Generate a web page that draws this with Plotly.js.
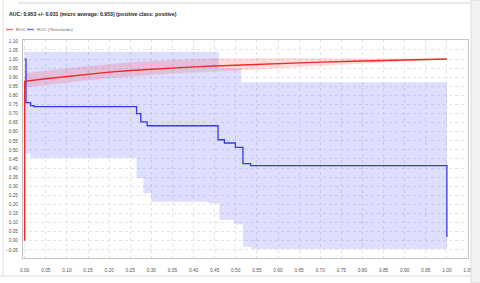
<!DOCTYPE html>
<html>
<head>
<meta charset="utf-8">
<script src="https://cdn.plot.ly/plotly-3.0.1.min.js"></script>
<style>
html,body{margin:0;padding:0;background:#fff;}
#chart{width:480px;height:283px;}
</style>
</head>
<body>
<div id="chart"></div>
<script>
// ROC (mean) curve
const rocX = [0, 0, 0.05, 0.1, 0.15, 0.2, 0.25, 0.3, 0.35, 0.4, 0.45, 0.5, 0.6, 0.7, 0.8, 0.9, 1.0];
const rocY = [0, 0.877, 0.892, 0.905, 0.917, 0.928, 0.937, 0.945, 0.951, 0.957, 0.962, 0.967, 0.975, 0.983, 0.989, 0.995, 1.0];
// ROC band (std)
const bandX = [0, 0.05, 0.1, 0.15, 0.2, 0.25, 0.3, 0.35, 0.4, 0.45, 0.5, 0.6, 0.7, 0.8, 0.9, 1.0];
const bandUpper = [0.922, 0.937, 0.95, 0.962, 0.973, 0.982, 0.99, 0.996, 1.0, 1.003, 1.005, 1.005, 1.005, 1.005, 1.003, 1.0];
const bandLower = [0.843, 0.858, 0.872, 0.884, 0.895, 0.905, 0.913, 0.92, 0.925, 0.93, 0.935, 0.948, 0.962, 0.975, 0.988, 1.0];
// ROC (Thresholds) step curve
const thrX = [0, 0.003, 0.014, 0.022, 0.265, 0.275, 0.29, 0.458, 0.473, 0.499, 0.517, 0.535, 1.0, 1.0];
const thrY = [1.0, 0.76, 0.744, 0.738, 0.70, 0.654, 0.633, 0.556, 0.538, 0.514, 0.424, 0.414, 0.414, 0.02];
// Thresholds band (step edges)
const thrUpX = [0, 0.46, 0.513, 1.0];
const thrUpY = [1.04, 0.95, 0.873, 0.873];
const thrLoX = [0, 0.013, 0.265, 0.281, 0.30, 0.435, 0.461, 0.496, 0.517, 0.537, 1.0];
const thrLoY = [0.48, 0.455, 0.345, 0.262, 0.215, 0.206, 0.114, 0.09, -0.033, -0.045, -0.045];

const titleText = "AUC: 0.953 +/- 0.031 (micro average: 0.953) (positive class: positive)";
const legendNames = ["ROC", "ROC (Thresholds)"];

function expandSteps(xs, ys) {
  const px = [], py = [];
  for (let i = 0; i < xs.length; i++) {
    px.push(xs[i]); py.push(ys[i]);
    if (i < xs.length - 1) { px.push(xs[i + 1]); py.push(ys[i]); }
  }
  return [px, py];
}
const up = expandSteps(thrUpX, thrUpY);
const lo = expandSteps(thrLoX, thrLoY);
const polyX = up[0].concat(lo[0].slice().reverse());
const polyY = up[1].concat(lo[1].slice().reverse());

const RED = 'rgb(240,40,40)';
const BLUE = 'rgb(55,55,235)';

const traces = [
  {x: polyX, y: polyY, mode: 'lines', fill: 'toself', fillcolor: 'rgba(60,60,255,0.17)', line: {width: 0}, hoverinfo: 'skip'},
  {x: bandX, y: bandLower, mode: 'lines', line: {width: 0}, hoverinfo: 'skip'},
  {x: bandX, y: bandUpper, mode: 'lines', fill: 'tonexty', fillcolor: 'rgba(255,40,40,0.17)', line: {width: 0}, hoverinfo: 'skip'},
  {x: thrX, y: thrY, mode: 'lines', line: {color: BLUE, width: 1.3, shape: 'hv'}, name: legendNames[1]},
  {x: rocX, y: rocY, mode: 'lines', line: {color: RED, width: 1.4}, name: legendNames[0]}
];

// pixel -> paper helpers for decorations
const L = 23, R = 12, T = 40, B = 25, W = 480, H = 283;
const pw = W - L - R, ph = H - T - B;
const px2x = p => (p - L) / pw;
const py2y = p => (H - B - p) / ph;

const FONT = 'Liberation Sans, Arial, sans-serif';
const axisCommon = {
  showgrid: true, gridcolor: '#e4e4e4', griddash: 'dot', gridwidth: 1,
  zeroline: false, showline: true, linecolor: '#c4c4c4', linewidth: 1, mirror: true,
  tickfont: {family: FONT, size: 4.8, color: '#555'},
  tickformat: '.2f', dtick: 0.05, ticks: ''
};

const layout = {
  width: W, height: H,
  margin: {l: L, r: R, t: T, b: B},
  paper_bgcolor: '#fff', plot_bgcolor: '#fff',
  showlegend: false,
  title: {text: '<b>' + titleText + '</b>', xref: 'container', yref: 'container', x: 9 / W, y: 1 - 14 / H,
    xanchor: 'left', yanchor: 'middle', font: {family: FONT, size: 5.2, color: '#222'}},
  xaxis: Object.assign({}, axisCommon, {range: [-0.004, 1.05], tick0: 0, ticklabelstandoff: 7}),
  yaxis: Object.assign({}, axisCommon, {range: [-0.095, 1.105], tick0: 0, ticklabelstandoff: 3}),
  shapes: [
    {type: 'line', xref: 'paper', yref: 'paper', x0: px2x(18), x1: px2x(470), y0: py2y(3), y1: py2y(3), line: {color: '#d0d0d0', width: 1}},
    {type: 'line', xref: 'paper', yref: 'paper', x0: px2x(3), x1: px2x(3), y0: py2y(0), y1: py2y(276), line: {color: '#e0e0e0', width: 1}},
    {type: 'line', xref: 'paper', yref: 'paper', x0: px2x(0), x1: px2x(480), y0: py2y(276), y1: py2y(276), line: {color: '#dcdcdc', width: 1}},
    {type: 'rect', xref: 'paper', yref: 'paper', x0: px2x(471), x1: px2x(481), y0: py2y(0), y1: py2y(283), fillcolor: '#f1f1f1', line: {color: '#dddddd', width: 1}},
    {type: 'line', xref: 'paper', yref: 'paper', x0: px2x(6), x1: px2x(13), y0: py2y(29.5), y1: py2y(29.5), line: {color: 'rgb(255,110,110)', width: 1.5}},
    {type: 'line', xref: 'paper', yref: 'paper', x0: px2x(27), x1: px2x(34), y0: py2y(29.5), y1: py2y(29.5), line: {color: 'rgb(110,110,255)', width: 1.5}}
  ],
  annotations: [
    {xref: 'paper', yref: 'paper', x: px2x(14), y: py2y(29.5), xanchor: 'left', yanchor: 'middle', showarrow: false, text: legendNames[0],
      font: {family: FONT, size: 4.4, color: '#666'}},
    {xref: 'paper', yref: 'paper', x: px2x(35), y: py2y(29.5), xanchor: 'left', yanchor: 'middle', showarrow: false, text: legendNames[1],
      font: {family: FONT, size: 4.4, color: '#666'}}
  ]
};

Plotly.newPlot('chart', traces, layout, {displayModeBar: false, staticPlot: true});
</script>
</body>
</html>
